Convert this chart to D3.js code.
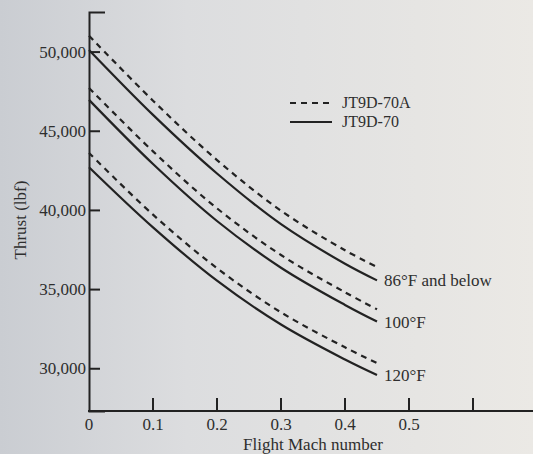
<!DOCTYPE html>
<html><head><meta charset="utf-8">
<script src="https://cdn.jsdelivr.net/npm/d3@7"></script>
<style>
html,body{margin:0;padding:0;}
svg{display:block;font-family:"Liberation Serif","Times New Roman",serif;}
</style></head>
<body><svg id="c" width="533" height="454"></svg>
<script>
// ---- data ----
const mach = [0, 0.1, 0.2, 0.3, 0.4, 0.45];
const t86_70A  = [51000, 46900, 43150, 39950, 37450, 36400];
const t86_70   = [50100, 46000, 42300, 39100, 36600, 35550];
const t100_70A = [47700, 43700, 40100, 37150, 34800, 33720];
const t100_70  = [46950, 42900, 39300, 36350, 34000, 32950];
const t120_70A = [43600, 39700, 36320, 33530, 31320, 30330];
const t120_70  = [42700, 38900, 35530, 32760, 30550, 29570];
const curveLabels = ["86°F and below", "100°F", "120°F"];
const legendLabels = ["JT9D-70A", "JT9D-70"];
const yTicks = [30000, 35000, 40000, 45000, 50000];
const xTicks = [0.1, 0.2, 0.3, 0.4, 0.5, 0.6];
const xTickLabels = [0, 0.1, 0.2, 0.3, 0.4, 0.5];

const W = 533, H = 454;
const m = {left: 89, top: 12, bottom: 43};
const svg = d3.select("#c");
const FS = 17;

// background (scanned page tone)
const defs = svg.append("defs");
const g = defs.append("linearGradient").attr("id","bg").attr("x1","0").attr("x2","1").attr("y1","0").attr("y2","0");
g.append("stop").attr("offset","0").attr("stop-color","#cacdd2");
g.append("stop").attr("offset","0.35").attr("stop-color","#dcdddf");
g.append("stop").attr("offset","1").attr("stop-color","#ebe9e5");
svg.append("rect").attr("width",W).attr("height",H).attr("fill","url(#bg)");

const x = d3.scaleLinear().domain([0, 0.7]).range([m.left, m.left + 448]);
const y = d3.scaleLinear().domain([27300, 52500]).range([H - m.bottom, m.top]);

const ink = "#222";
const txt = "#2e2e2e";

// y axis
const yAxis = d3.axisLeft(y).tickValues(yTicks).tickSizeInner(-11).tickSizeOuter(-16)
  .tickPadding(14).tickFormat(d3.format(","));
const ya = svg.append("g").attr("transform",`translate(${m.left},0)`).call(yAxis);
ya.select(".domain").attr("stroke",ink).attr("stroke-width",2);
ya.selectAll(".tick line").attr("stroke",ink).attr("stroke-width",2);
ya.selectAll(".tick text").attr("fill",txt).attr("font-size",FS).attr("font-family","Liberation Serif").attr("x",-3);

// x axis
const xa = svg.append("g").attr("transform",`translate(0,${H - m.bottom})`);
xa.append("line").attr("x1",m.left-1).attr("x2",W).attr("y1",0).attr("y2",0).attr("stroke",ink).attr("stroke-width",2);
xa.selectAll("line.tk").data(xTicks).join("line").attr("class","tk")
  .attr("x1",d=>x(d)).attr("x2",d=>x(d)).attr("y1",0).attr("y2",-13)
  .attr("stroke",ink).attr("stroke-width",2);
xa.selectAll("text").data(xTickLabels).join("text")
  .attr("x",d=>x(d)).attr("y",19).attr("text-anchor","middle")
  .attr("fill",txt).attr("font-size",FS).text(d=>d===0?"0":d3.format(".1f")(d));

// axis titles
svg.append("text").attr("x",x(0.35)).attr("y",450).attr("text-anchor","middle")
  .attr("fill",txt).attr("font-size",FS).text("Flight Mach number");
svg.append("text").attr("transform",`translate(26,220) rotate(-90)`).attr("text-anchor","middle")
  .attr("fill",txt).attr("font-size",FS).text("Thrust (lbf)");

// curves
const line = d3.line().x((d,i)=>x(mach[i])).y(d=>y(d)).curve(d3.curveCatmullRom.alpha(0.5));
const series = [
  {v:t86_70A, dash:true},{v:t86_70, dash:false},
  {v:t100_70A, dash:true},{v:t100_70, dash:false},
  {v:t120_70A, dash:true},{v:t120_70, dash:false}
];
svg.selectAll("path.s").data(series).join("path").attr("class","s")
  .attr("d",d=>line(d.v)).attr("fill","none").attr("stroke",ink)
  .attr("stroke-width",2.2).attr("stroke-dasharray",d=>d.dash?"6,5":null);

// curve labels
const labelY = [t86_70[5], t100_70[5], t120_70[5]];
svg.selectAll("text.cl").data(curveLabels).join("text").attr("class","cl")
  .attr("x",x(0.45)+7).attr("y",(d,i)=>y(labelY[i])+6)
  .attr("fill",txt).attr("font-size",FS).text(d=>d);

// legend
const leg = svg.append("g");
const lx0 = 290, lx1 = 332, ly = [103, 122];
leg.selectAll("line").data(legendLabels).join("line")
  .attr("x1",lx0).attr("x2",lx1).attr("y1",(d,i)=>ly[i]).attr("y2",(d,i)=>ly[i])
  .attr("stroke",ink).attr("stroke-width",2.2).attr("stroke-dasharray",(d,i)=>i===0?"6,5":null);
leg.selectAll("text").data(legendLabels).join("text")
  .attr("x",lx1+10).attr("y",(d,i)=>ly[i]+5)
  .attr("fill",txt).attr("font-size",16).text(d=>d);
</script></body></html>
